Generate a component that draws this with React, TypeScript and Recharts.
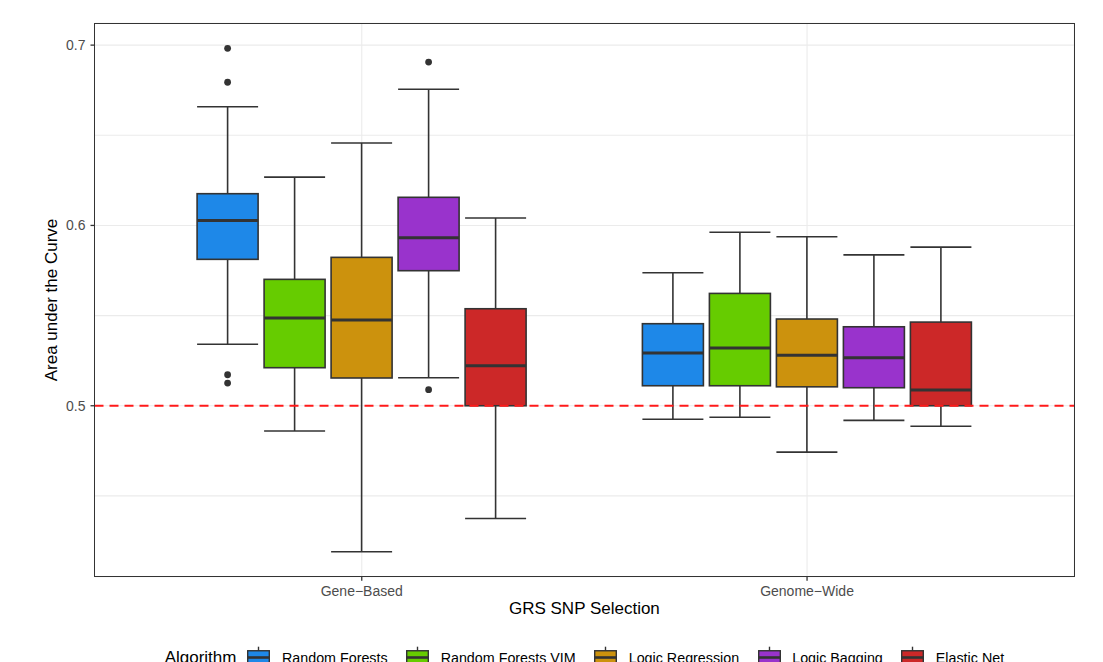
import React from 'react';
import { ComposedChart, Bar, XAxis, YAxis, CartesianGrid, ReferenceLine, Label } from 'recharts';

const groups = ['Gene\u2212Based', 'Genome\u2212Wide'];
const algorithms = ['Random Forests', 'Random Forests VIM', 'Logic Regression', 'Logic Bagging', 'Elastic Net'];
const algoKeys = ['rf', 'rfvim', 'lr', 'lb', 'en'];
const COLORS = ['#1E88E8', '#66CC00', '#CC920D', '#9933CC', '#CC2828'];

// [lower whisker, q1, median, q3, upper whisker], one entry per group
const rfStats = [[0.5341, 0.5812, 0.6028, 0.6176, 0.6658], [0.4925, 0.5111, 0.5292, 0.5455, 0.5738]];
const rfVimStats = [[0.486, 0.5211, 0.5486, 0.5701, 0.6268], [0.4936, 0.5111, 0.532, 0.5623, 0.5962]];
const lrStats = [[0.419, 0.5154, 0.5475, 0.5823, 0.6457], [0.4743, 0.5105, 0.528, 0.5481, 0.5937]];
const lbStats = [[0.5155, 0.5749, 0.5932, 0.6156, 0.6755], [0.4919, 0.51, 0.5266, 0.5438, 0.5837]];
const enStats = [[0.4375, 0.5, 0.5222, 0.5538, 0.6041], [0.4886, 0.5, 0.5087, 0.5464, 0.588]];

// outlying points, one list per group
const rfOutliers = [[0.5126, 0.5172, 0.6794, 0.6982], []];
const rfVimOutliers = [[], []];
const lrOutliers = [[], []];
const lbOutliers = [[0.5089, 0.6906], []];
const enOutliers = [[], []];

const yTicks = [0.45, 0.5, 0.55, 0.6, 0.65, 0.7];
const majorTicks = [0.5, 0.6, 0.7];
const Y_DOMAIN = [0.4052, 0.7121];

const allStats = [rfStats, rfVimStats, lrStats, lbStats, enStats];
const allOutliers = [rfOutliers, rfVimOutliers, lrOutliers, lbOutliers, enOutliers];

const data = groups.map((g, i) => {
  const row: any = { group: g };
  algoKeys.forEach((k, j) => {
    row[k] = { stats: allStats[j][i], outliers: allOutliers[j][i] };
  });
  return row;
});

const LINE = '#333333';
const LW = 1.6;
const TICK_SIZE = 4;
const TICK_MARGIN = 5;

// plot panel box (matches chart margins below)
const PANEL = { left: 94.5, top: 23.3, width: 979.8, height: 553.4 };
const BORDER = 1.3;

const extent = (s: any) => {
  const vals = [...s.stats, ...s.outliers];
  return [Math.min(...vals), Math.max(...vals)];
};

const BoxShape = (props: any) => {
  const { x, y, width, height, payload, algoKey, color } = props;
  const s = payload[algoKey];
  const [lo, hi] = extent(s);
  const top = Math.min(y, y + height);
  const h = Math.abs(height);
  const py = (v: number) => top + ((hi - v) / (hi - lo)) * h;
  const [wLo, q1, med, q3, wHi] = s.stats;
  const cx = x + width / 2;
  return (
    <g>
      <line x1={cx} x2={cx} y1={py(wHi)} y2={py(q3)} stroke={LINE} strokeWidth={LW} />
      <line x1={cx} x2={cx} y1={py(q1)} y2={py(wLo)} stroke={LINE} strokeWidth={LW} />
      <line x1={x} x2={x + width} y1={py(wHi)} y2={py(wHi)} stroke={LINE} strokeWidth={LW} />
      <line x1={x} x2={x + width} y1={py(wLo)} y2={py(wLo)} stroke={LINE} strokeWidth={LW} />
      <rect x={x} y={py(q3)} width={width} height={py(q1) - py(q3)} fill={color} stroke={LINE} strokeWidth={LW} />
      <line x1={x} x2={x + width} y1={py(med)} y2={py(med)} stroke={LINE} strokeWidth={3} />
      {s.outliers.map((o: number, i: number) => (
        <circle key={i} cx={cx} cy={py(o)} r={3.4} fill={LINE} />
      ))}
    </g>
  );
};

const YTick = (props: any) => {
  const { x, y, payload } = props;
  const v = payload.value;
  if (!majorTicks.some((m) => Math.abs(m - v) < 1e-9)) return null;
  const axisX = x + TICK_MARGIN + TICK_SIZE;
  return (
    <g>
      <line x1={axisX - TICK_SIZE} x2={axisX} y1={y} y2={y} stroke={LINE} strokeWidth={1.3} />
      <text x={x} y={y} dy="0.355em" textAnchor="end" fontSize={14} fill="#4D4D4D">
        {v.toFixed(1)}
      </text>
    </g>
  );
};

const YTitle = (props: any) => {
  const vb = props.viewBox || { y: 23, height: 554 };
  const cy = vb.y + vb.height / 2;
  return (
    <text x={57} y={cy} transform={`rotate(-90, 57, ${cy})`} textAnchor="middle" fontSize={17} fill="#000">
      Area under the Curve
    </text>
  );
};

const KeyGlyph = ({ color }: { color: string }) => (
  <svg width={27} height={27} style={{ display: 'block' }}>
    <line x1={13.5} x2={13.5} y1={2.7} y2={6.75} stroke={LINE} strokeWidth={1.4} />
    <line x1={13.5} x2={13.5} y1={20.25} y2={24.3} stroke={LINE} strokeWidth={1.4} />
    <rect x={2.7} y={6.75} width={21.6} height={13.5} fill={color} stroke={LINE} strokeWidth={1.4} />
    <line x1={2.7} x2={24.3} y1={13.5} y2={13.5} stroke={LINE} strokeWidth={2.6} />
  </svg>
);

export default function App() {
  return (
    <div
      style={{
        position: 'absolute',
        left: 0,
        top: 0,
        width: 1103,
        height: 662,
        overflow: 'hidden',
        background: '#fff',
        fontFamily: '"Liberation Sans", Arial, sans-serif',
      }}
    >
      <ComposedChart
        width={1103}
        height={662}
        data={data}
        barSize={61}
        barGap={6}
        margin={{ top: PANEL.top, right: 1103 - PANEL.left - PANEL.width, bottom: 40.3, left: 0 }}
      >
        <CartesianGrid stroke="#EBEBEB" strokeWidth={1.1} />
        <XAxis
          dataKey="group"
          padding={{ left: 44.6, right: 44.6 }}
          height={45}
          tick={{ fontSize: 14, fill: '#4D4D4D' }}
          tickSize={TICK_SIZE}
          tickMargin={TICK_MARGIN}
          tickLine={{ stroke: LINE, strokeWidth: 1.3 }}
          axisLine={false}
        >
          <Label value="GRS SNP Selection" position="insideBottom" offset={8} fontSize={17} fill="#000" />
        </XAxis>
        <YAxis
          type="number"
          domain={Y_DOMAIN}
          allowDataOverflow
          ticks={yTicks}
          width={PANEL.left}
          tick={<YTick />}
          tickLine={false}
          tickSize={TICK_SIZE}
          tickMargin={TICK_MARGIN}
          axisLine={false}
        >
          <Label content={<YTitle />} />
        </YAxis>
        {algoKeys.map((k, j) => (
          <Bar
            key={k}
            dataKey={(d: any) => extent(d[k])}
            name={algorithms[j]}
            fill={COLORS[j]}
            isAnimationActive={false}
            shape={(p: any) => <BoxShape {...p} algoKey={k} color={COLORS[j]} />}
          />
        ))}
        <ReferenceLine y={0.5} stroke="#FF1A1A" strokeWidth={1.8} strokeDasharray="9 6" />
      </ComposedChart>

      {/* panel border */}
      <div
        style={{
          position: 'absolute',
          left: PANEL.left - BORDER / 2,
          top: PANEL.top - BORDER / 2,
          width: PANEL.width + BORDER,
          height: PANEL.height + BORDER,
          border: `${BORDER}px solid ${LINE}`,
          boxSizing: 'border-box',
          pointerEvents: 'none',
        }}
      />

      <div
        style={{
          position: 'absolute',
          left: PANEL.left,
          width: PANEL.width,
          top: 644.3,
          height: 27,
          display: 'flex',
          justifyContent: 'center',
          alignItems: 'center',
          whiteSpace: 'nowrap',
        }}
      >
        <span style={{ fontSize: 17, color: '#000', marginRight: 9 }}>Algorithm</span>
        {algorithms.map((a, j) => (
          <React.Fragment key={a}>
            <KeyGlyph color={COLORS[j]} />
            <span style={{ fontSize: 14.3, color: '#000', marginLeft: 9.5, marginRight: j < algorithms.length - 1 ? 16.5 : 0 }}>
              {a}
            </span>
          </React.Fragment>
        ))}
      </div>
    </div>
  );
}
